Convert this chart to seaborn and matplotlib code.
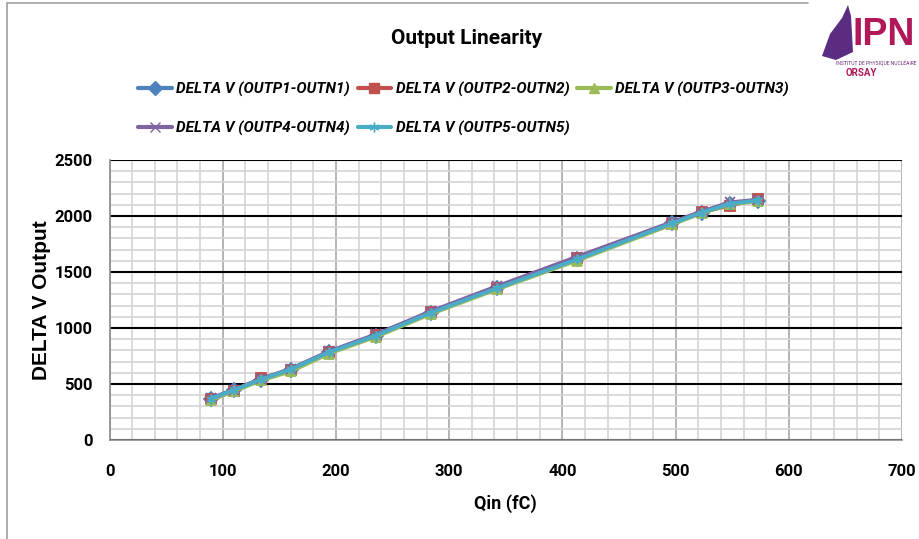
import matplotlib
matplotlib.use("Agg")
import matplotlib.pyplot as plt
import seaborn as sns
import pandas as pd
from matplotlib.ticker import MultipleLocator
from matplotlib.lines import Line2D
from matplotlib.patches import Polygon

qin = [90, 110, 134, 160, 194, 235, 284, 342, 413, 497, 523, 548, 573]
s1 = [368, 444, 540, 628, 782, 930, 1137, 1355, 1615, 1935, 2028, 2105, 2138]
s2 = [362, 440, 550, 622, 790, 936, 1140, 1360, 1622, 1928, 2038, 2092, 2152]
s3 = [358, 436, 532, 612, 772, 920, 1126, 1345, 1602, 1925, 2025, 2104, 2132]
s4 = [375, 450, 546, 636, 792, 942, 1150, 1372, 1636, 1946, 2040, 2122, 2146]
s5 = [370, 446, 541, 630, 784, 931, 1137, 1354, 1613, 1935, 2030, 2110, 2140]
names = ["DELTA V (OUTP1-OUTN1)", "DELTA V (OUTP2-OUTN2)", "DELTA V (OUTP3-OUTN3)",
         "DELTA V (OUTP4-OUTN4)", "DELTA V (OUTP5-OUTN5)"]
series = [s1, s2, s3, s4, s5]
colors = ["#4F81BD", "#C0504D", "#9BBB59", "#8064A2", "#4BACC6"]
markers = ["D", "s", "^", "x", (6, 2, 0)]

sns.set_style("white")
plt.rcParams['font.family'] = ['Roboto', 'DejaVu Sans']
plt.rcParams['text.color'] = 'black'
plt.rcParams['axes.labelcolor'] = 'black'
plt.rcParams['xtick.color'] = 'black'
plt.rcParams['ytick.color'] = 'black'

fig = plt.figure(figsize=(9.19, 5.39), dpi=100)
W, H = 919, 539
ax = fig.add_axes([109.5 / W, 1 - 440 / H, (902 - 109.5) / W, (440 - 160) / H])

ax.set_xlim(0, 700)
ax.set_ylim(0, 2500)
ax.xaxis.set_major_locator(MultipleLocator(100))
ax.xaxis.set_minor_locator(MultipleLocator(20))
ax.yaxis.set_major_locator(MultipleLocator(500))
ax.yaxis.set_minor_locator(MultipleLocator(100))
ax.grid(which="minor", axis="both", color="#d4d4d4", lw=1.2)
ax.grid(which="major", axis="x", color="#a8a8a8", lw=1.2)
ax.grid(which="major", axis="y", color="black", lw=1.5)
ax.set_axisbelow(True)

for n, s, c, m in zip(names, series, colors, markers):
    d = pd.DataFrame({"Qin": qin, "V": s})
    sns.lineplot(data=d, x="Qin", y="V", color=c, marker=m, lw=2.8, markersize=7,
                 markeredgecolor=c, markeredgewidth=1.3, ax=ax, legend=False, sort=False)

for sp in ["top", "right"]:
    ax.spines[sp].set_visible(False)
for sp in ["left", "bottom"]:
    ax.spines[sp].set_color("#8c8c8c")
    ax.spines[sp].set_linewidth(1.2)
ax.tick_params(axis="both", which="major", direction="out", length=6, width=1.2,
               labelsize=12)
ax.tick_params(axis="both", which="major", color="#8c8c8c")
ax.tick_params(axis="both", which="minor", length=0)
for lab in ax.get_xticklabels() + ax.get_yticklabels():
    lab.set_fontweight("bold")
ax.tick_params(axis="x", pad=11)
ax.tick_params(axis="y", pad=6)

ax.set_xlabel("Qin (fC)", fontsize=13, fontweight="bold", labelpad=11)
ax.set_ylabel("DELTA V Output", fontsize=15, fontweight="bold",
              family=["Liberation Sans", "DejaVu Sans"], labelpad=3)

fig.text(467 / W, 1 - 38 / H, "Output Linearity", ha="center", va="center",
         fontsize=15, fontweight="bold")

handles = [Line2D([0], [0], color=c, marker=m, lw=3, markersize=7, markeredgecolor=c)
           for c, m in zip(colors, markers)]
order = [0, 3, 1, 4, 2]
leg = fig.legend([handles[i] for i in order], [names[i] for i in order], ncol=3,
                 loc="upper left", bbox_to_anchor=(138 / W, 1 - 82 / H), frameon=False,
                 prop={"weight": "bold", "style": "italic", "size": 11},
                 handlelength=2.2, handletextpad=0.3, columnspacing=0.5, labelspacing=1.55,
                 borderpad=0, borderaxespad=0)

# chart border lines
fig.add_artist(Line2D([7 / W, 7 / W], [0, 1 - 3 / H], color="#a0a0a0", lw=1.2))
fig.add_artist(Line2D([7 / W, 808 / W], [1 - 3 / H, 1 - 3 / H], color="#a0a0a0", lw=1.2))

# logo
swoosh = Polygon([(822 / W, 1 - 56 / H), (830 / W, 1 - 34 / H), (842 / W, 1 - 18 / H),
                  (848 / W, 1 - 5 / H), (851 / W, 1 - 16 / H), (853 / W, 1 - 52 / H),
                  (836 / W, 1 - 60 / H)], closed=True, transform=fig.transFigure,
                 facecolor="#5a2d82", edgecolor="none")
fig.add_artist(swoosh)
fig.text(884 / W, 1 - 35 / H, "IPN", ha="center", va="center", fontsize=27, fontweight="bold",
         color="#B0185A", family=["Liberation Sans", "DejaVu Sans"])
fig.text(916 / W, 1 - 63 / H, "INSTITUT DE PHYSIQUE NUCLÉAIRE", ha="right", va="center",
         fontsize=3.6, color="#6a2a7a")
fig.text(846 / W, 1 - 73 / H, "ORSAY", ha="left", va="center", fontsize=7,
         fontweight="bold", color="#B0185A")

fig.savefig("out.png", dpi=100)
